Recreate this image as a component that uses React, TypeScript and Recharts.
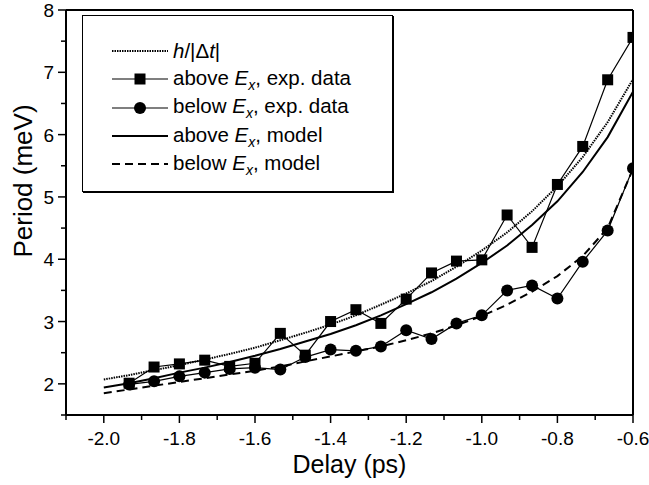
import React from 'react';
import { LineChart, Line, XAxis, YAxis, ReferenceLine, Legend, Label } from 'recharts';

const delays = [
  -2.0, -1.933, -1.867, -1.8, -1.733, -1.667, -1.6, -1.533, -1.467, -1.4, -1.333,
  -1.267, -1.2, -1.133, -1.067, -1.0, -0.933, -0.867, -0.8, -0.733, -0.667, -0.6,
];
const hOverDt = [
  2.07, 2.14, 2.22, 2.3, 2.39, 2.48, 2.58, 2.7, 2.82, 2.95, 3.1,
  3.27, 3.45, 3.65, 3.88, 4.14, 4.43, 4.77, 5.17, 5.64, 6.2, 6.89,
];
const modelAbove = [
  1.94, 2.01, 2.09, 2.18, 2.26, 2.35, 2.45, 2.56, 2.68, 2.8, 2.94,
  3.1, 3.28, 3.47, 3.69, 3.94, 4.22, 4.55, 4.93, 5.4, 5.96, 6.69,
];
const modelBelow = [
  1.85, 1.91, 1.97, 2.03, 2.09, 2.15, 2.21, 2.28, 2.36, 2.44, 2.52,
  2.6, 2.7, 2.81, 2.94, 3.09, 3.27, 3.48, 3.73, 4.05, 4.5, 5.45,
];
const expAbove = [
  null, 2.01, 2.27, 2.32, 2.38, 2.28, 2.33, 2.81, 2.46, 3.0, 3.19,
  2.97, 3.36, 3.78, 3.97, 3.99, 4.71, 4.19, 5.2, 5.81, 6.88, 7.56,
];
const expBelow = [
  null, 1.99, 2.04, 2.12, 2.18, 2.24, 2.26, 2.23, 2.43, 2.55, 2.53,
  2.6, 2.86, 2.72, 2.97, 3.1, 3.5, 3.58, 3.37, 3.96, 4.46, 5.46,
];

const xMajorTicks = [-2.0, -1.8, -1.6, -1.4, -1.2, -1.0, -0.8, -0.6];
const xMinorTicks = [-2.1, -1.9, -1.7, -1.5, -1.3, -1.1, -0.9, -0.7];
const yMajorTicks = [2, 3, 4, 5, 6, 7, 8];
const yMinorTicks = [1.5, 2.5, 3.5, 4.5, 5.5, 6.5, 7.5];

const data = delays.map((d, i) => ({
  delay: d,
  h: hOverDt[i],
  mAbove: modelAbove[i],
  mBelow: modelBelow[i],
  eAbove: expAbove[i],
  eBelow: expBelow[i],
}));

const FONT = '"Liberation Sans", Arial, Helvetica, sans-serif';

const isMajor = (list: number[], v: number) => list.some((t) => Math.abs(t - v) < 1e-6);

const XTick = ({ x, y, payload }: any) => {
  const major = isMajor(xMajorTicks, payload.value);
  return (
    <g>
      <line x1={x} y1={y} x2={x} y2={y + (major ? 8 : 5)} stroke="#000" strokeWidth={1.5} />
      {major && (
        <text x={x} y={y + 30} textAnchor="middle" fontSize={19} fontFamily={FONT} fill="#000">
          {payload.value.toFixed(1)}
        </text>
      )}
    </g>
  );
};

const YTick = ({ x, y, payload }: any) => {
  const major = isMajor(yMajorTicks, payload.value);
  return (
    <g>
      <line x1={x} y1={y} x2={x - (major ? 8 : 5)} y2={y} stroke="#000" strokeWidth={1.5} />
      {major && (
        <text x={x - 12} y={y + 7} textAnchor="end" fontSize={19} fontFamily={FONT} fill="#000">
          {payload.value}
        </text>
      )}
    </g>
  );
};

const squareDot = (props: any) => {
  const { cx, cy, index } = props;
  if (cx == null || cy == null || props.value == null) return <g key={`sq-${index}`} />;
  return <rect key={`sq-${index}`} x={cx - 5.5} y={cy - 5.5} width={11} height={11} fill="#000" />;
};

const circleDot = (props: any) => {
  const { cx, cy, index } = props;
  if (cx == null || cy == null || props.value == null) return <g key={`ci-${index}`} />;
  return <circle key={`ci-${index}`} cx={cx} cy={cy} r={6} fill="#000" />;
};

const Ex = () => (
  <span>
    <i>E</i>
    <sub style={{ fontSize: 14, verticalAlign: -5 }}>
      <i>x</i>
    </sub>
  </span>
);

const Sample = ({ kind }: { kind: string }) => (
  <svg width={56} height={16} style={{ marginRight: 5, flex: 'none' }}>
    {kind === 'dotted' && <line x1={0} y1={8} x2={56} y2={8} stroke="#000" strokeWidth={2} strokeDasharray="1.5 1" />}
    {kind === 'square' && (
      <g>
        <line x1={0} y1={8} x2={56} y2={8} stroke="#000" strokeWidth={1.2} />
        <rect x={22.5} y={2.5} width={11} height={11} fill="#000" />
      </g>
    )}
    {kind === 'circle' && (
      <g>
        <line x1={0} y1={8} x2={56} y2={8} stroke="#000" strokeWidth={1.2} />
        <circle cx={28} cy={8} r={6} fill="#000" />
      </g>
    )}
    {kind === 'solid' && <line x1={0} y1={8} x2={56} y2={8} stroke="#000" strokeWidth={2} />}
    {kind === 'dashed' && <line x1={0} y1={8} x2={56} y2={8} stroke="#000" strokeWidth={2} strokeDasharray="8 5" />}
  </svg>
);

const legendRows = [
  { kind: 'dotted', label: <span><i>h</i>/|Δ<i>t</i>|</span> },
  { kind: 'square', label: <span>above <Ex />, exp. data</span> },
  { kind: 'circle', label: <span>below <Ex />, exp. data</span> },
  { kind: 'solid', label: <span>above <Ex />, model</span> },
  { kind: 'dashed', label: <span>below <Ex />, model</span> },
];

const renderLegend = () => (
  <div
    style={{
      width: 311,
      height: 177,
      border: '1px solid #000',
      boxShadow: '1px 1px 0 #000',
      background: '#fff',
      boxSizing: 'border-box',
      paddingTop: 21,
      paddingLeft: 29,
      fontFamily: FONT,
      fontSize: 20.5,
      color: '#000',
    }}
  >
    {legendRows.map((r) => (
      <div key={r.kind} style={{ display: 'flex', alignItems: 'center', height: 28.3, whiteSpace: 'nowrap' }}>
        <Sample kind={r.kind} />
        {r.label}
      </div>
    ))}
  </div>
);

export default function App() {
  return (
    <div style={{ position: 'absolute', left: 0, top: 0, background: '#fff' }}>
      <LineChart width={649} height={485} data={data} margin={{ top: 10, right: 16, bottom: 0, left: 0 }}>
        <XAxis
          dataKey="delay"
          type="number"
          domain={[-2.1, -0.6]}
          ticks={[...xMinorTicks, ...xMajorTicks].sort((a, b) => a - b)}
          interval={0}
          tickSize={0}
          tickMargin={0}
          tickLine={false}
          tick={<XTick />}
          axisLine={{ stroke: '#000', strokeWidth: 2 }}
          height={70}
          allowDataOverflow
        >
          <Label
            content={({ viewBox }: any) => (
              <text
                x={viewBox.x + viewBox.width / 2}
                y={viewBox.y + 58}
                textAnchor="middle"
                fontSize={25}
                fontFamily={FONT}
                fill="#000"
              >
                Delay (ps)
              </text>
            )}
          />
        </XAxis>
        <YAxis
          type="number"
          domain={[1.5, 8]}
          ticks={[...yMinorTicks, ...yMajorTicks].sort((a, b) => a - b)}
          interval={0}
          tickSize={0}
          tickMargin={0}
          tickLine={false}
          tick={<YTick />}
          axisLine={{ stroke: '#000', strokeWidth: 2 }}
          width={66}
          allowDataOverflow
        >
          <Label
            content={() => (
              <text
                x={0}
                y={0}
                transform="translate(32, 181) rotate(-90)"
                textAnchor="middle"
                fontSize={26}
                fontFamily={FONT}
                fill="#000"
              >
                Period (meV)
              </text>
            )}
          />
        </YAxis>
        <ReferenceLine y={8} stroke="#000" strokeWidth={2} />
        <ReferenceLine x={-0.6} stroke="#000" strokeWidth={2} />
        <Legend
          layout="vertical"
          align="center"
          verticalAlign="middle"
          wrapperStyle={{ left: 82, top: 15, width: 311, height: 177 }}
          content={renderLegend}
        />
        <Line dataKey="h" type="linear" stroke="#000" strokeWidth={2} strokeDasharray="1.5 1" dot={false} isAnimationActive={false} />
        <Line dataKey="mAbove" type="linear" stroke="#000" strokeWidth={2} dot={false} isAnimationActive={false} />
        <Line dataKey="mBelow" type="linear" stroke="#000" strokeWidth={2} strokeDasharray="8 5" dot={false} isAnimationActive={false} />
        <Line dataKey="eBelow" type="linear" stroke="#000" strokeWidth={1.2} dot={circleDot} isAnimationActive={false} />
        <Line dataKey="eAbove" type="linear" stroke="#000" strokeWidth={1.2} dot={squareDot} isAnimationActive={false} />
      </LineChart>
    </div>
  );
}
